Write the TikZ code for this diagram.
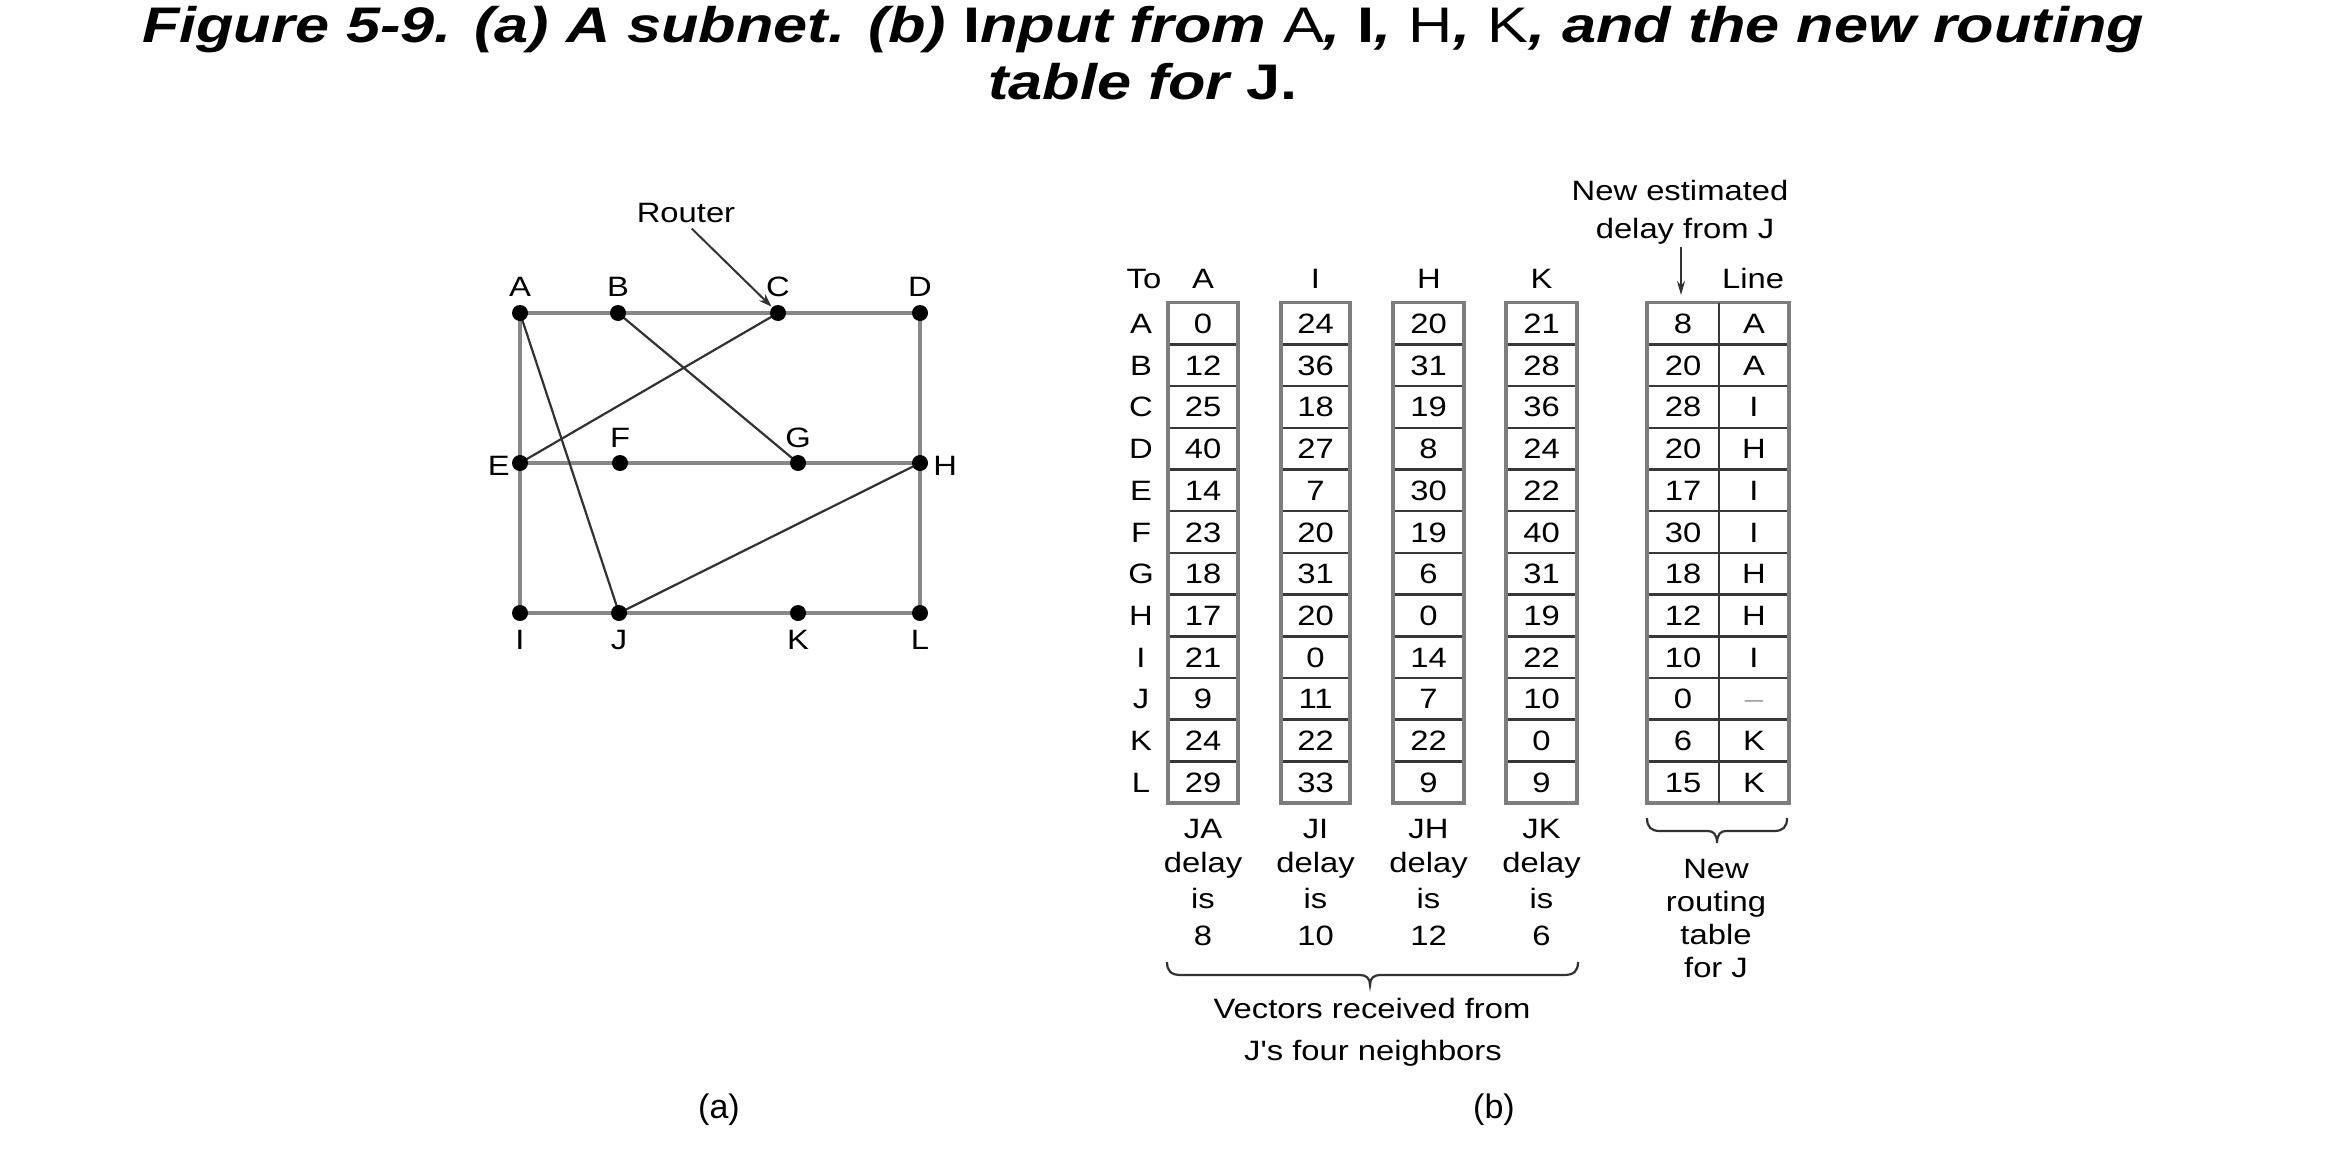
\documentclass[tikz,border=0pt]{standalone}
\usepackage{fontspec}
\setmainfont{Liberation Sans}
\newfontfamily\figfont[FakeStretch=1.17]{Liberation Sans}
\newfontfamily\ttlfont[FakeStretch=1.225]{Liberation Sans}
\usetikzlibrary{arrows.meta}
\pgfdeclarelayer{bg}
\pgfsetlayers{bg,main}
\definecolor{gridc}{RGB}{135,135,135}
\definecolor{diagc}{RGB}{50,50,50}
\definecolor{boxc}{RGB}{125,125,125}
\definecolor{sepc}{RGB}{55,55,55}
\newcommand\vcol[3]{\foreach \v [count=\i] in {#3}{\node[cell] (#2\i) at (#1,{291.85+41.7*\i}) {\v};}}
\begin{document}
\begin{tikzpicture}[x=1pt,y=-1pt,
  every node/.style={inner sep=0pt, font=\figfont\fontsize{28}{33}\selectfont},
  dot/.style={circle, fill=black, minimum size=16pt, inner sep=0pt},
  gridedge/.style={draw=gridc, line width=4pt},
  diagedge/.style={draw=diagc, line width=2.2pt},
  cell/.style={anchor=base},
  lbl/.style={anchor=base},
  boxline/.style={draw=boxc, line width=3.5pt},
  sepline/.style={draw=sepc, line width=2.5pt},
  tip/.style={-{Stealth[length=13pt,width=9pt]}, draw=diagc, line width=2pt},
  brace/.style={draw=diagc, line width=2.2pt},
  ttl/.style={anchor=base, font=\ttlfont\bfseries\itshape\fontsize{50}{58}\selectfont}
]
\useasboundingbox (0,0) rectangle (2343,1151);
\begin{pgfonlayer}{bg}
\fill[white] (0,0) rectangle (2343,1151);
\end{pgfonlayer}

% title
\node[ttl] (t1) at (1143,42) {Figure 5-9. (a) A subnet. (b) {\upshape I}nput from {\upshape\mdseries A}, {\upshape I}, {\upshape\mdseries H}, {\upshape\mdseries K}, and the new routing};
\node[ttl] (t2) at (1143,99) {table for {\upshape J.}};

% (a) subnet
\node[dot, label={[label distance=8pt]above:A}] (A) at (520,313) {};
\node[dot, label={[label distance=8pt]above:B}] (B) at (618,313) {};
\node[dot, label={[label distance=8pt]above:C}] (C) at (778,313) {};
\node[dot, label={[label distance=8pt]above:D}] (D) at (920,313) {};
\node[dot, label={[label distance=2pt,yshift=-3pt]left:E}] (E) at (520,463) {};
\node[dot, label={[label distance=7pt]above:F}] (F) at (620,463) {};
\node[dot, label={[label distance=7pt]above:G}] (G) at (798,463) {};
\node[dot, label={[label distance=5pt,yshift=-3pt]right:H}] (H) at (920,463) {};
\node[dot, label={[label distance=9pt]below:I}] (I) at (520,613) {};
\node[dot, label={[label distance=9pt]below:J}] (J) at (619,613) {};
\node[dot, label={[label distance=9pt]below:K}] (K) at (798,613) {};
\node[dot, label={[label distance=9pt]below:L}] (L) at (920,613) {};
\node (router) at (686,213) {Router};

\begin{pgfonlayer}{bg}
\foreach \p/\q in {A/B,B/C,C/D,E/F,F/G,G/H,I/J,J/K,K/L,A/E,E/I,D/H,H/L}
  \draw[gridedge] (\p.center) -- (\q.center);
\foreach \p/\q in {A/J,C/E,B/G,J/H}
  \draw[diagedge] (\p.center) -- (\q.center);
\end{pgfonlayer}
\draw[tip, shorten <=8pt, shorten >=1pt] (router.south) -- (C);

\node[font=\fontsize{34}{40}\selectfont] (capa) at (719,1110) {(a)};
\node[font=\fontsize{34}{40}\selectfont] (capb) at (1494,1110) {(b)};

% (b) tables
\foreach \xa/\xb in {1168/1238, 1281/1350, 1393/1464, 1506/1577, 1647/1789}{
  \foreach \k in {1,...,11}
    \draw[sepline] (\xa,{302.7+41.7*\k}) -- (\xb,{302.7+41.7*\k});
  \draw[boxline] (\xa,302.7) rectangle (\xb,803.1);
}
\draw[sepline] (1719,302.7) -- (1719,803.1);

\vcol{1203}{cA}{0,12,25,40,14,23,18,17,21,9,24,29}
\vcol{1315.5}{cI}{24,36,18,27,7,20,31,20,0,11,22,33}
\vcol{1428.5}{cH}{20,31,19,8,30,19,6,0,14,7,22,9}
\vcol{1541.5}{cK}{21,28,36,24,22,40,31,19,22,10,0,9}
\vcol{1683}{cN}{8,20,28,20,17,30,18,12,10,0,6,15}
\vcol{1754}{cL}{A,A,I,H,I,I,H,H,I,{\color{gray!70}\textendash},K,K}
\vcol{1141}{rw}{A,B,C,D,E,F,G,H,I,J,K,L}

% headers
\node[lbl] (hTo) at (1144,288) {To};
\node[lbl] (hA) at (1203,288) {A};
\node[lbl] (hI) at (1315.5,288) {I};
\node[lbl] (hH) at (1429,288) {H};
\node[lbl] (hK) at (1541.5,288) {K};
\node[lbl] (hLine) at (1753,288) {Line};
\node[lbl] (ne1) at (1680,200) {New estimated};
\node[lbl] (ne2) at (1685,238) {delay from J};
\coordinate (arrtop) at (1681,247);
\coordinate (arrbot) at (1681,295);
\draw[-{Stealth[length=14pt,width=8pt]}, draw=diagc, line width=2pt] (arrtop) -- (arrbot);

% under-column labels
\foreach \cx/\a/\b in {1203/JA/8, 1315.5/JI/10, 1428.5/JH/12, 1541.5/JK/6}{
  \node[lbl] at (\cx,838) {\a};
  \node[lbl] at (\cx,872) {delay};
  \node[lbl] at (\cx,908) {is};
  \node[lbl] at (\cx,945) {\b};
}

% braces
\draw[brace] (1167,962) .. controls (1167,971) and (1171,975) .. (1181,975) -- (1360,975)
  .. controls (1366,975) and (1370,978) .. (1370,985)
  .. controls (1370,978) and (1374,975) .. (1380,975) -- (1564,975)
  .. controls (1574,975) and (1578,971) .. (1578,962);
\draw[brace] (1647,818) .. controls (1647,827) and (1651,831) .. (1660,831) -- (1708,831)
  .. controls (1713,831) and (1717,834) .. (1717,843)
  .. controls (1717,834) and (1721,831) .. (1726,831) -- (1774,831)
  .. controls (1783,831) and (1787,827) .. (1787,818);

\node[lbl] (vr1) at (1372,1018) {Vectors received from};
\node[lbl] (vr2) at (1373,1060) {J's four neighbors};
\node[lbl] (nr1) at (1716,878) {New};
\node[lbl] (nr2) at (1716,911) {routing};
\node[lbl] (nr3) at (1716,944) {table};
\node[lbl] (nr4) at (1716,977) {for J};
\end{tikzpicture}
\end{document}
